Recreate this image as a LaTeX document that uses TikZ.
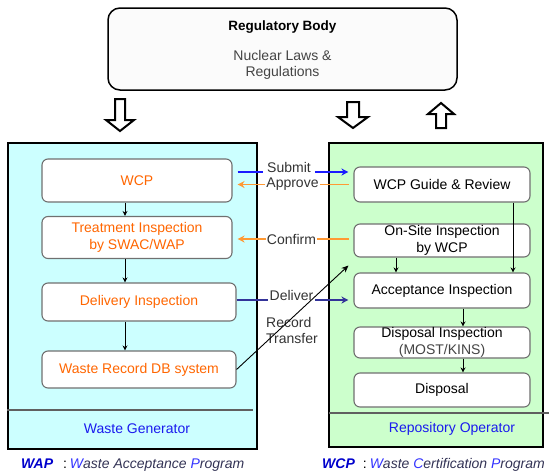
\documentclass[tikz,border=0pt]{standalone}
\usepackage{fontspec}
\setmainfont{Liberation Sans}
\usetikzlibrary{arrows.meta,calc}

\definecolor{genfill}{HTML}{CCFFFF}
\definecolor{repfill}{HTML}{CCFFCC}
\definecolor{topfill}{HTML}{FBFBFB}
\definecolor{orangetxt}{HTML}{FF6600}
\definecolor{orangeln}{HTML}{FF9933}
\definecolor{submitblue}{HTML}{1A1AFF}
\definecolor{deliverblue}{HTML}{333399}
\definecolor{labelgray}{HTML}{333333}
\definecolor{boxedge}{HTML}{707070}
\definecolor{sepgray}{HTML}{606060}
\definecolor{capblue}{HTML}{1A1AEE}
\definecolor{lawgray}{HTML}{444444}
\definecolor{notedark}{HTML}{333355}
\definecolor{noteinit}{HTML}{3333FF}
\definecolor{noteabbr}{HTML}{0000CC}

\begin{document}
\begin{tikzpicture}[x=1pt,y=-1pt,
  every node/.style={font=\fontsize{14}{16.5}\selectfont, inner sep=0pt},
  panel/.style={draw=black, line width=2pt},
  stage/.style={draw=boxedge, line width=1.1pt, rounded corners=6pt,
    fill=white, align=center},
  genstage/.style={stage, text=orangetxt},
  lbl/.style={text=labelgray, inner xsep=2pt},
  flow/.style={draw=black, line width=0.9pt, -{Stealth[length=5pt,width=5pt]}},
  submitln/.style={draw=submitblue, line width=1.8pt},
  deliverln/.style={draw=deliverblue, line width=1.8pt},
  orangeline/.style={draw=orangeln, line width=1.8pt},
  bigtip/.style={-{Stealth[length=7pt,width=7pt]}},
  blockarrow/.style={draw=black, line width=2pt, fill=white, line join=miter},
  note/.style={font=\fontsize{14}{17}\selectfont\itshape, text=notedark, anchor=west}
]
\useasboundingbox (0,0) rectangle (549,474);
\clip (0,0) rectangle (549,474);

% regulatory body on top
\node[draw=black, line width=1.5pt, rounded corners=12pt, fill=topfill,
  minimum width=349pt, minimum height=82pt] (reg) at (282.5,49) {};
\node[font=\fontsize{13.5}{16}\selectfont\bfseries] (regtitle) at (282.5,27) {Regulatory Body};
\node[text=lawgray, align=center] (laws) at (282.5,65) {Nuclear Laws \&\\Regulations};

% hollow block arrows under the regulatory body
\draw[blockarrow] (115,99) -- (125,99) -- (125,120) -- (134,120) -- (120,131)
  -- (106,120) -- (115,120) -- cycle;
\draw[blockarrow] (347,102) -- (359,102) -- (359,117) -- (368,117) -- (353,128)
  -- (338,117) -- (347,117) -- cycle;
\draw[blockarrow] (441,103) -- (454,114) -- (446,114) -- (446,128) -- (436,128)
  -- (436,114) -- (428,114) -- cycle;

% the two organisations
\node[panel, fill=genfill, minimum width=249pt, minimum height=306pt] (gen) at (132.5,296) {};
\node[panel, fill=repfill, minimum width=214pt, minimum height=304pt] (rep) at (436,295) {};
\draw[sepgray, line width=1.2pt] (7,410) -- (253,410);
\draw[sepgray, line width=1.2pt] (329,413) -- (549,413);
\node[text=capblue] (gencap) at (137,429) {Waste Generator};
\node[text=capblue] (repcap) at (452,429) {Repository Operator};

% waste generator steps
\node[genstage, minimum width=190pt, minimum height=43pt] (wcp) at (137,180.5) {WCP};
\node[genstage, minimum width=190pt, minimum height=42pt] (treat) at (137,237.5)
  {Treatment Inspection\\by SWAC/WAP};
\node[genstage, minimum width=194pt, minimum height=38pt] (deliv) at (139,302) {Delivery Inspection};
\node[genstage, minimum width=194pt, minimum height=37pt] (record) at (139,369.5) {Waste Record DB system};

% repository operator steps
\node[stage, minimum width=176pt, minimum height=35pt] (guide) at (442,184.5) {WCP Guide \& Review};
\node[stage, minimum width=176pt, minimum height=33pt] (onsite) at (442,240.5) {On-Site Inspection\\by WCP};
\node[stage, minimum width=176pt, minimum height=35pt] (accept) at (442,290.5) {Acceptance Inspection};
\node[stage, minimum width=176pt, minimum height=31pt] (dispinsp) at (442,342.5)
  {Disposal Inspection\\\textcolor{lawgray}{(MOST/KINS)}};
\node[stage, minimum width=176pt, minimum height=34pt] (disposal) at (442,390) {Disposal};

% column guides for the vertical flow arrows
\coordinate (lx) at (125,0);
\coordinate (rxa) at (396,0);
\coordinate (rxb) at (463,0);
\coordinate (rxc) at (513,0);

\draw[flow] (wcp.south -| lx) -- (treat.north -| lx);
\draw[flow] (treat.south -| lx) -- (deliv.north -| lx);
\draw[flow] (deliv.south -| lx) -- (record.north -| lx);

\draw[flow] (onsite.south -| rxa) -- (accept.north -| rxa);
\draw[flow] (guide.south -| rxc) -- (accept.north -| rxc);
\draw[flow] (accept.south -| rxb) -- (dispinsp.north -| rxb);
\draw[flow] (dispinsp.south -| rxb) -- (disposal.north -| rxb);

% exchanges between the organisations
\node[lbl, anchor=base, inner xsep=4pt] (submit) at (289,172) {Submit};
\node[lbl, inner xsep=1pt] (approve) at (292.5,184.5) {Approve};
\node[lbl, inner xsep=1pt] (confirm) at (291.5,239) {Confirm};
\node[lbl, anchor=base] (deliver) at (291.5,300) {Deliver};
\node[lbl, align=left, anchor=north west, inner xsep=0pt] (transfer) at (266,317) {Record\\Transfer};

\draw[submitln, shorten <=5pt] (wcp.east |- submit.base) -- (submit.base west);
\draw[submitln, bigtip, shorten >=5pt] (submit.base east) -- (guide.west |- submit.base);

\draw[orangeline, bigtip, shorten >=5pt] (approve.west) -- (wcp.east |- approve.west);
\draw[orangeline, shorten >=4pt] (approve.east) -- (guide.west |- approve.east);

\draw[orangeline, bigtip, shorten >=5pt] (confirm.west) -- (treat.east |- confirm.west);
\draw[orangeline, shorten >=4pt] (confirm.east) -- (onsite.west |- confirm.east);

\draw[deliverln] (deliv.east |- deliver.base) -- (deliver.base west);
\draw[deliverln, bigtip, shorten >=5pt] (deliver.base east) -- (accept.west |- deliver.base);

\coordinate (rtip) at ($(onsite.south west)+(-5,8)$);
\draw[draw=black, line width=0.9pt, -{Stealth[length=7pt,width=6pt]}] (record.east) -- (rtip);

% abbreviations
\node[note] (wapnote) at (21,465)
  {{\bfseries\color{noteabbr}WAP}\hspace{10pt}{\upshape\color{black}:}\hspace{3pt}{\color{noteinit}W}aste Acceptance {\color{noteinit}P}rogram};
\node[note] (wcpnote) at (322,465)
  {{\bfseries\color{noteabbr}WCP}\hspace{8pt}{\upshape\color{black}:}\hspace{3pt}{\color{noteinit}W}aste {\color{noteinit}C}ertification {\color{noteinit}P}rogram};
\end{tikzpicture}
\end{document}
